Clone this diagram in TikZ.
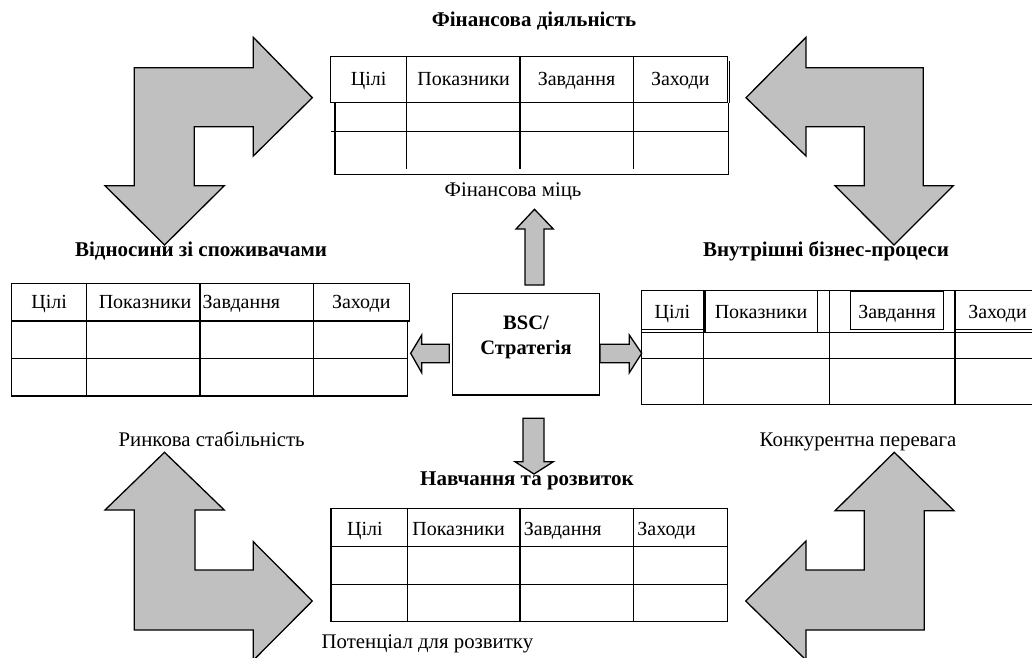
\documentclass[tikz,border=0pt]{standalone}
\usepackage{fontspec}
\setmainfont{Liberation Serif}
\begin{document}
\begin{tikzpicture}[x=1pt,y=-1pt,
  line width=1.3pt, line join=miter,
  blk/.style={draw=black, fill=arrowgray, line width=1.3pt},
  cell/.style={anchor=base, inner sep=0pt, font=\fontsize{20}{24}\selectfont},
  cellL/.style={anchor=base west, inner sep=0pt, font=\fontsize{20}{24}\selectfont},
  ttl/.style={anchor=base, inner sep=0pt, font=\fontsize{21}{25}\selectfont\bfseries},
  lbl/.style={anchor=base, inner sep=0pt, font=\fontsize{20.8}{24}\selectfont},
  lblL/.style={anchor=base west, inner sep=0pt, font=\fontsize{20.8}{24}\selectfont}]
\definecolor{arrowgray}{RGB}{192,192,192}
\useasboundingbox (0,0) rectangle (1032,657);

% ---------- big L arrows ----------
\draw[blk] (312.3,97.7) -- (253.3,37.3) -- (253.3,67.7) -- (134.3,67.7) -- (134.3,185.7) -- (105,185.7) -- (164.5,245) -- (224.3,185.7) -- (194.3,185.7) -- (194.3,126.7) -- (253.3,126.7) -- (253.3,156) -- cycle;
\draw[blk] (746,97.7) -- (806,37.3) -- (806,67.7) -- (923.3,67.7) -- (923.3,185.7) -- (953.3,185.7) -- (894,245) -- (835,185.7) -- (864.3,185.7) -- (864.3,126.7) -- (806,126.7) -- (806,156) -- cycle;
\draw[blk] (164.5,452.3) -- (224.3,510) -- (195,510) -- (195,570) -- (253.3,570) -- (253.3,541.7) -- (312.3,601) -- (253.3,660.3) -- (253.3,630) -- (134.3,630) -- (134.3,510) -- (105,510) -- cycle;
\draw[blk] (894.3,452.3) -- (954,510.7) -- (924.3,510.7) -- (924.3,630) -- (806,630) -- (806,660) -- (745.7,601) -- (806,541) -- (806,570) -- (864.3,570) -- (864.3,510.7) -- (835,510.7) -- cycle;

% ---------- top table ----------
\draw (330.7,56.7) rectangle (727.3,102.7);
\draw (729.3,60.7) -- (729.3,102.7);
\draw (335,102.7) -- (335,174.3) -- (728.3,174.3) -- (728.3,102.7);
\draw (330.7,131.7) -- (728.3,131.7);
\foreach \x in {406.7,520,633.3} \draw (\x,56.7) -- (\x,169.3);
\node[cell] (t1) at (368.7,85.7) {Цілі};
\node[cell] (t2) at (463.7,85.7) {Показники};
\node[cell] (t3) at (576.5,85.7) {Завдання};
\node[cell] (t4) at (680.3,85.7) {Заходи};
\node[ttl] (ttop) at (534,26) {Фінансова діяльність};
\node[lbl] (ltop) at (513,196) {Фінансова міць};

% ---------- left table ----------
\draw (11.7,283.3) rectangle (409.3,321);
\draw (11.7,321) -- (11.7,396) -- (407.3,396) -- (407.3,321);
\draw (11.7,358.3) -- (407.3,358.3);
\foreach \x in {86.7,200,313.3} \draw (\x,283.3) -- (\x,396);
\node[cell] (l1) at (49.2,308.3) {Цілі};
\node[cell] (l2) at (145,308.3) {Показники};
\node[cellL] (l3) at (202,308.3) {Завдання};
\node[cell] (l4) at (361.3,308.3) {Заходи};
\node[ttl] (tleft) at (201,256) {Відносини зі споживачами};

% ---------- right table ----------
\draw (1040,290.7) -- (641.7,290.7) -- (641.7,404.3) -- (1040,404.3);
\draw (641.7,329.3) -- (703.3,329.3);
\draw (955,329.3) -- (1040,329.3);
\draw (641.7,332.7) -- (1040,332.7);
\draw (641.7,358.3) -- (1040,358.3);
\foreach \x in {703.3,829.3,955} \draw (\x,290.7) -- (\x,404.3);
\draw (705,290.7) rectangle (817.3,332.7);
\draw (850.7,291.7) rectangle (943.3,329.3);
\node[cell] (r1) at (672.5,318.3) {Цілі};
\node[cell] (r2) at (761,318.3) {Показники};
\node[cell] (r3) at (897,318.3) {Завдання};
\node[cell] (r4) at (997.5,318.3) {Заходи};
\node[ttl] (tright) at (826,256) {Внутрішні бізнес-процеси};

% ---------- bottom table ----------
\draw (331,508.3) rectangle (727.7,621.7);
\draw (331,546.7) -- (727.7,546.7);
\draw (331,584.3) -- (727.7,584.3);
\foreach \x in {407.3,520,633.3} \draw (\x,508.3) -- (\x,621.7);
\node[cell] (b1) at (365,535) {Цілі};
\node[cellL] (b2) at (411.7,535) {Показники};
\node[cellL] (b3) at (523.3,535) {Завдання};
\node[cellL] (b4) at (636.7,535) {Заходи};
\node[lblL] (lbot) at (321,648) {Потенціал для розвитку};

% ---------- side labels ----------
\node[lblL] (lbl1) at (118,446) {Ринкова стабільність};
\node[lbl] (lbl2) at (858,446) {Конкурентна перевага};

% ---------- centre ----------
\node[draw, line width=1.3pt, minimum width=146.6pt, minimum height=101.7pt, inner sep=0pt] (bsc) at (526,344.2) {};
\node[align=center, inner sep=0pt, font=\fontsize{20.5}{25}\selectfont\bfseries] (bsct) at (526,337) {BSC/\\Стратегія};

% small block arrows
\draw[blk] (525,285) -- (525,229) -- (516,229) -- (534.5,209.3) -- (553.3,229) -- (544,229) -- (544,285) -- cycle;
\draw[blk] (523,418.3) -- (523,461.7) -- (515,461.7) -- (534,474) -- (553.3,461.7) -- (544,461.7) -- (544,418.3) -- cycle;
\draw[blk] (449.3,344.3) -- (421.7,344.3) -- (421.7,335) -- (410.7,353.3) -- (421.7,372.7) -- (421.7,362.7) -- (449.3,362.7) -- cycle;
\draw[blk] (600,344.3) -- (629.3,344.3) -- (629.3,335) -- (641.7,353.3) -- (629.3,372.7) -- (629.3,362.7) -- (600,362.7) -- cycle;

\node[ttl] (tbot) at (527,485) {Навчання та розвиток};
\end{tikzpicture}
\end{document}
